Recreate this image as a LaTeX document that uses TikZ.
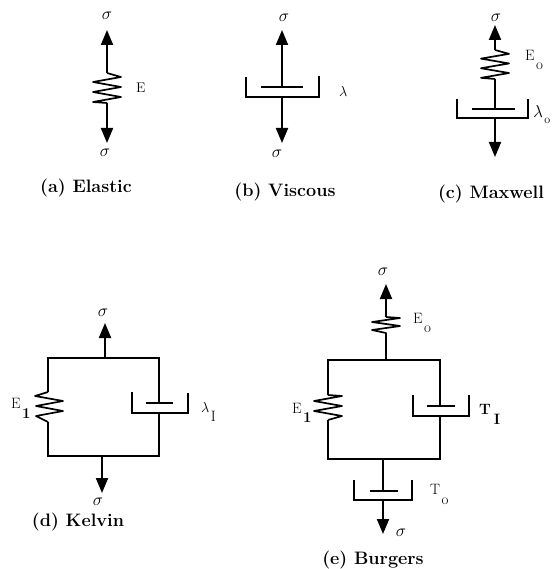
\documentclass[tikz,border=0pt]{standalone}
\usepackage{fontspec}
\usetikzlibrary{arrows.meta}
\newcommand{\lowsub}[2][9pt]{\kern1.5pt\raisebox{-#1}{#2}}
\newcommand{\springzag}[4]{%
  \draw[wire,line join=round] (#1) -- ++(#3,0.8*#4) -- ++(-2*#3,#4) -- ++(2*#3,#4) -- ++(-2*#3,#4) -- ++(2*#3,#4) -- ++(-2*#3,#4) -- (#2);}
\tikzset{
  wire/.style={line width=1.7pt,black},
  force/.style={line width=2pt,black,-{Triangle[length=15pt,width=12pt]},shorten >=0pt},
  plate/.style={line width=2.2pt,black},
  sym/.style={inner sep=0pt,font=\fontsize{16}{16}\selectfont},
  lab/.style={inner sep=0pt,anchor=base west,font=\fontsize{15}{15}\selectfont},
  captext/.style={inner sep=0pt,font=\bfseries\fontsize{18}{18}\selectfont\addfontfeature{LetterSpace=5}}
}
\begin{document}
\begin{tikzpicture}[x=1pt,y=-1pt]
\useasboundingbox (0,0) rectangle (551,569);
% ---- (a) Elastic
\node[sym] (a1) at (107,16) {$\sigma$};
\node[sym] (a2) at (105,153) {$\sigma$};
\node[lab,font=\fontsize{14}{14}\selectfont] (aE) at (136,93) {E};
\node[captext] (acap) at (86,188) {(a) Elastic};
\coordinate (atip) at (107,30);
\coordinate (abot) at (107,143);
\coordinate (as1) at (107,73);
\coordinate (as2) at (107,103);
\draw[force] (as1) -- (atip);
\draw[force] (as2) -- (abot);
\springzag{as1}{as2}{14}{5}
% ---- (b) Viscous
\node[sym] (b1) at (284,18) {$\sigma$};
\node[sym] (b2) at (277,154) {$\sigma$};
\node[lab] (bL) at (339,97) {$\lambda$};
\node[captext] (bcap) at (285,192) {(b) Viscous};
\coordinate (btip) at (282,30);
\coordinate (bbot) at (282,143);
\coordinate (bp) at (282,87);
\coordinate (bc) at (282,97);
\draw[force] (bp) -- (btip);
\draw[force] (bc) -- (bbot);
\draw[plate] (261,87) -- (303,87);
\draw[wire] (246,77) -- (246,97) -- (319,97) -- (319,76);
% ---- (c) Maxwell
\node[sym] (c1) at (496,18) {$\sigma$};
\node[lab] (cE) at (525,61) {E\lowsub{o}};
\node[lab,anchor=base east,font=\fontsize{16}{16}\selectfont] (cL) at (550.5,118) {$\lambda$\lowsub[6pt]{\fontsize{12}{12}\selectfont o}};
\node[captext] (ccap) at (491,194) {(c) Maxwell};
\coordinate (ctip) at (495,25);
\coordinate (cs1) at (495,50);
\coordinate (cs2) at (495,79);
\coordinate (cp) at (495,109);
\coordinate (cc) at (495,118);
\coordinate (cbot) at (495,157);
\draw[force] (cs1) -- (ctip);
\springzag{cs1}{cs2}{14}{4.8}
\draw[wire] (cs2) -- (cp);
\draw[plate] (472,109) -- (515,109);
\draw[wire] (457,99) -- (457,118) -- (528,118) -- (528,99);
\draw[force] (cc) -- (cbot);
% ---- (d) Kelvin
\node[sym] (d1) at (103,313) {$\sigma$};
\node[sym] (d2) at (98,502) {$\sigma$};
\node[lab] (dE) at (11,408) {E\lowsub[10pt]{\bfseries 1}};
\node[lab] (dL) at (201,412) {$\lambda$\lowsub{I}};
\node[captext] (dcap) at (78,522) {(d) Kelvin};
\coordinate (dtip) at (105,323);
\coordinate (dt) at (105,358);
\coordinate (db) at (102,456);
\coordinate (dbot) at (102,493);
\coordinate (dlt) at (48,358);
\coordinate (drt) at (159,358);
\coordinate (dlb) at (48,456);
\coordinate (drb) at (159,456);
\coordinate (ds1) at (48,392);
\coordinate (ds2) at (48,422);
\coordinate (dp) at (159,403);
\coordinate (dc) at (159,413);
\draw[force] (dt) -- (dtip);
\draw[force] (db) -- (dbot);
\draw[wire,line join=miter] (ds1) -- (dlt) -- (drt) -- (dp);
\draw[wire,line join=miter] (ds2) -- (dlb) -- (drb) -- (dc);
\draw[wire,line join=round] (ds1) -- ++(-13,4) -- ++(28,5) -- ++(-27,5) -- ++(27,5) -- ++(-27,5) -- (ds2);
\draw[plate] (146,403) -- (173,403);
\draw[wire] (132,392) -- (132,413) -- (188,413) -- (188,393);
% ---- (e) Burgers
\node[sym] (e1) at (383,272) {$\sigma$};
\node[sym] (e2) at (401,533) {$\sigma$};
\node[lab] (eE) at (413,323) {E\lowsub{o}};
\node[lab] (eF) at (292,413) {E\lowsub{\bfseries 1}};
\node[lab,font=\bfseries\fontsize{15}{15}\selectfont] (eT1) at (479,414) {T\kern1.5pt\lowsub[10pt]{I}};
\node[lab] (eT0) at (430,494) {T\lowsub[10pt]{o}};
\node[captext] (ecap) at (373,560.5) {(e) Burgers};
\coordinate (etip) at (386,284);
\coordinate (es1) at (386,317);
\coordinate (es2) at (386,335);
\coordinate (et) at (386,360);
\coordinate (elt) at (328,360);
\coordinate (ert) at (440,360);
\coordinate (elb) at (328,459);
\coordinate (erb) at (440,459);
\coordinate (els1) at (328,395);
\coordinate (els2) at (328,420);
\coordinate (ep) at (440,406);
\coordinate (ec) at (440,416);
\coordinate (eb) at (383,459);
\coordinate (ep2) at (383,491);
\coordinate (ec2) at (383,500);
\coordinate (ebot) at (383,534);
\draw[force] (es1) -- (etip);
\draw[wire,line join=round] (es1) -- ++(14,1) -- ++(-28,4) -- ++(28,4) -- ++(-28,4) -- ++(14,3) -- (es2) -- (et);
\draw[wire,line join=miter] (els1) -- (elt) -- (ert) -- (ep);
\draw[wire,line join=miter] (els2) -- (elb) -- (erb) -- (ec);
\draw[wire,line join=round] (els1) -- ++(14,1) -- ++(-28,5) -- ++(28,5) -- ++(-28,5) -- ++(28,5) -- ++(-14,4) -- (els2);
\draw[plate] (427,406) -- (455,406);
\draw[wire] (413,395) -- (413,416) -- (469,416) -- (469,395);
\draw[wire] (eb) -- (ep2);
\draw[plate] (370,491) -- (398,491);
\draw[wire] (354,480) -- (354,500) -- (412,500) -- (412,480);
\draw[force] (ec2) -- (ebot);
\end{tikzpicture}
\end{document}
